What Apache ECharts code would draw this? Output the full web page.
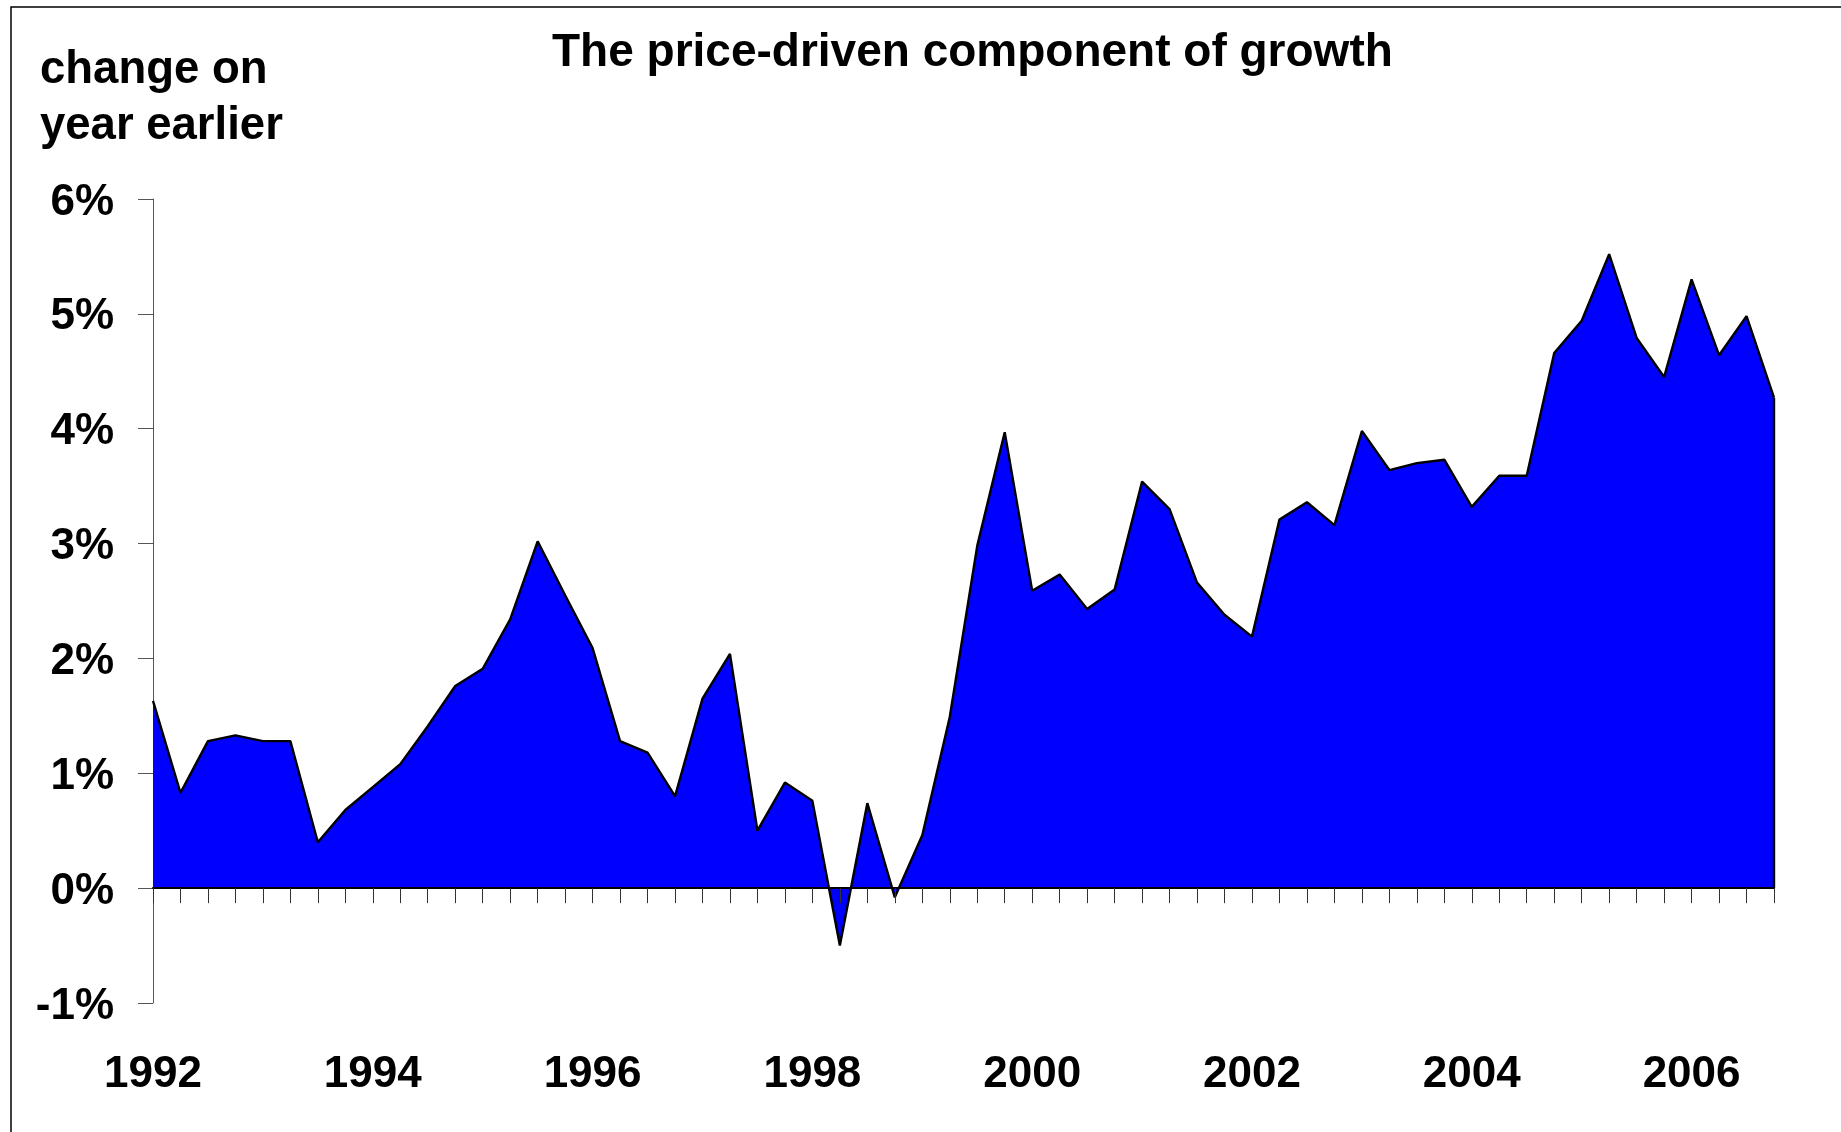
<!DOCTYPE html>
<html>
<head>
<meta charset="utf-8">
<script src="https://cdn.jsdelivr.net/npm/echarts@6/dist/echarts.min.js"></script>
<style>
  html, body { margin: 0; padding: 0; background: #fff; }
  #chart { width: 1841px; height: 1132px; }
</style>
</head>
<body>
<div id="chart"></div>
<script>
// quarterly, 1992 Q1 .. 2006 Q4
const years = ['1992', '1993', '1994', '1995', '1996', '1997', '1998', '1999',
               '2000', '2001', '2002', '2003', '2004', '2005', '2006'];
const quarters = years.flatMap(y => ['Q1', 'Q2', 'Q3', 'Q4'].map(q => y + ' ' + q));

// price-driven growth, % change on year earlier
const priceGrowth = [
  1.63, 0.83, 1.28, 1.33,
  1.28, 1.28, 0.40, 0.68,
  0.88, 1.08, 1.41, 1.76,
  1.91, 2.34, 3.02, 2.55,
  2.09, 1.28, 1.18, 0.80,
  1.65, 2.04, 0.50, 0.92,
  0.76, -0.50, 0.74, -0.08,
  0.46, 1.49, 2.98, 3.97,
  2.59, 2.73, 2.43, 2.60,
  3.54, 3.30, 2.66, 2.38,
  2.19, 3.21, 3.36, 3.16,
  3.98, 3.64, 3.70, 3.73,
  3.32, 3.59, 3.59, 4.66,
  4.94, 5.52, 4.79, 4.45,
  5.30, 4.64, 4.98, 4.27
];

const FONT = '"Liberation Sans", Arial, sans-serif';
const last = priceGrowth.length - 1;

const myChart = echarts.init(document.getElementById('chart'));

const option = {
  backgroundColor: '#fff',
  animation: false,
  title: [{
    text: 'The price-driven component of growth',
    left: 552, top: 30, padding: 0,
    textStyle: { fontFamily: FONT, fontSize: 46, fontWeight: 'bold', color: '#000', lineHeight: 46 }
  }, {
    text: 'change on\nyear earlier',
    left: 40, top: 42, padding: 0,
    textStyle: { fontFamily: FONT, fontSize: 45.5, fontWeight: 'bold', color: '#000', lineHeight: 56 }
  }],
  grid: { left: 153, right: 67, top: 199, bottom: 129 },
  xAxis: [{
    type: 'category',
    data: quarters,
    boundaryGap: false,
    z: 5,
    axisLine: { onZero: true, lineStyle: { color: '#000', width: 2 } },
    axisTick: { show: true, interval: 0, length: 15, lineStyle: { color: '#333', width: 1 } },
    axisLabel: { show: false },
    splitLine: { show: false }
  }, {
    type: 'category',
    data: quarters,
    boundaryGap: false,
    position: 'bottom',
    axisLine: { show: false, onZero: false },
    axisTick: { show: false },
    axisLabel: {
      interval: 7,
      margin: 50,
      fontFamily: FONT, fontSize: 44, fontWeight: 'bold', color: '#000',
      formatter: v => v.slice(0, 4)
    },
    splitLine: { show: false }
  }],
  yAxis: {
    type: 'value',
    min: -1, max: 6, interval: 1,
    axisLine: { show: true, lineStyle: { color: '#555', width: 1 } },
    axisTick: { show: true, length: 15, lineStyle: { color: '#555', width: 1 } },
    axisLabel: {
      margin: 39,
      verticalAlign: 'top',
      lineHeight: 7,
      fontFamily: FONT, fontSize: 44, fontWeight: 'bold', color: '#000',
      formatter: '{value}%'
    },
    splitLine: { show: false }
  },
  series: [{
    type: 'line',
    data: priceGrowth,
    showSymbol: false,
    symbol: 'none',
    lineStyle: { color: '#000', width: 2.4 },
    areaStyle: { color: '#0000ff', opacity: 1 },
    markLine: {
      silent: true,
      symbol: 'none',
      label: { show: false },
      lineStyle: { color: '#000', width: 2.4, type: 'solid' },
      data: [[{ coord: [last, 0] }, { coord: [last, priceGrowth[last]] }]]
    }
  }],
  graphic: [{
    type: 'polyline',
    shape: { points: [[11, 1132], [11, 7], [1841, 7]] },
    style: { stroke: '#000', lineWidth: 1.5, fill: null }
  }]
};

myChart.setOption(option);
</script>
</body>
</html>
